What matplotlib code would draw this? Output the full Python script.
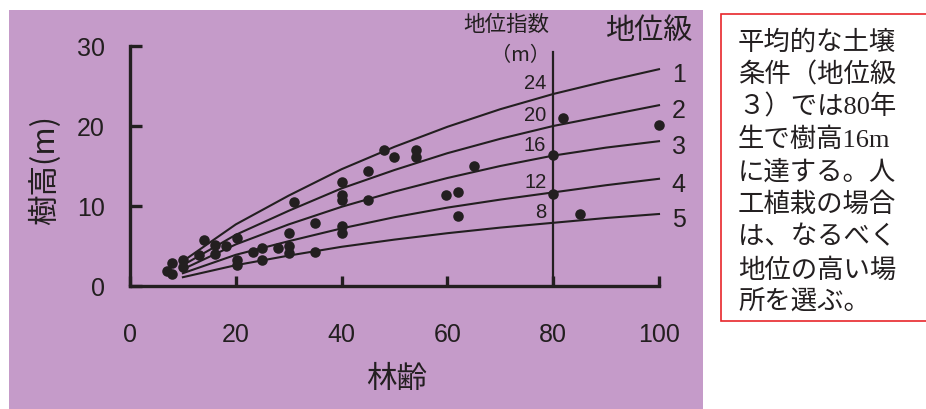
import matplotlib
matplotlib.use('Agg')
import matplotlib.pyplot as plt
from matplotlib.patches import Rectangle

# -------- data --------
ages = [10, 20, 30, 40, 50, 60, 70, 80, 90, 100]
site_class_1 = [3.1, 7.7, 11.3, 14.6, 17.4, 19.9, 22.1, 24.0, 25.6, 27.1]
site_class_2 = [2.6, 6.4, 9.4, 12.2, 14.5, 16.6, 18.4, 20.0, 21.3, 22.6]
site_class_3 = [2.1, 5.2, 7.7, 9.9, 11.8, 13.5, 15.0, 16.3, 17.3, 18.1]
site_class_4 = [1.6, 3.9, 5.6, 7.2, 8.6, 9.8, 10.8, 11.7, 12.6, 13.4]
site_class_5 = [1.1, 2.6, 3.8, 4.9, 5.8, 6.6, 7.3, 7.9, 8.5, 9.0]
curves = [site_class_1, site_class_2, site_class_3, site_class_4, site_class_5]
class_labels = ['1', '2', '3', '4', '5']
site_index_labels = ['24', '20', '16', '12', '8']
index_age = 80

# observed stands (age, height)
obs_age = [6.9, 8.0, 8.0, 10.0, 10.0, 13.0, 14.0, 16.0, 16.0, 18.2, 20.2, 20.2, 20.2,
           23.2, 25.0, 25.0, 28.0, 30.0, 30.0, 30.0, 31.0, 35.0, 35.0,
           40.0, 40.0, 40.0, 40.0, 40.0, 45.0, 45.0, 48.0, 50.0, 54.0, 54.0,
           59.8, 62.0, 62.0, 65.0, 80.0, 80.0, 81.8, 85.0, 100.0]
obs_height = [1.9, 2.9, 1.5, 3.2, 2.4, 3.9, 5.8, 5.1, 4.0, 5.0, 6.0, 3.2, 2.6,
              4.2, 4.7, 3.25, 4.8, 6.6, 5.0, 4.1, 10.5, 7.9, 4.3,
              13.0, 11.4, 10.75, 7.5, 6.6, 14.4, 10.8, 17.0, 16.1, 17.0, 16.1,
              11.4, 11.7, 8.7, 15.0, 16.4, 11.5, 21.0, 9.0, 20.1]

x_ticks = [0, 20, 40, 60, 80, 100]
y_ticks = [0, 10, 20, 30]

note_lines = ['平均的な土壌', '条件（地位級', '３）では80年', '生で樹高16m',
              'に達する。人', '工植栽の場合', 'は、なるべく', '地位の高い場', '所を選ぶ。']
# ------------------------------------------

ink = '#231f20'
purple = '#c59bc9'
jp = ['Noto Sans CJK JP', 'DejaVu Sans']
num = ['Liberation Sans', 'DejaVu Sans']
plt.rcParams['font.family'] = num

W, H = 926, 410
fig = plt.figure(figsize=(W / 100, H / 100), dpi=100)

# purple panel behind the chart
fig.patches.append(Rectangle((9 / W, 0), (703 - 9) / W, 1 - 11 / H,
                             transform=fig.transFigure, facecolor=purple,
                             edgecolor='none', zorder=-5))

ax = fig.add_axes([130 / W, 1 - 287 / H, (659 - 130) / W, (287 - 47) / H])
ax.patch.set_alpha(0)

for c in curves:
    ax.plot(ages, c, color=ink, lw=1.5, clip_on=False, zorder=3)

ax.plot(obs_age, obs_height, 'o', color=ink, ms=7.6, mec='none', clip_on=False, zorder=4)

# site index reference line at age 80
ax.plot([index_age, index_age], [0, 29.3], color=ink, lw=1.6, clip_on=False, zorder=3)

i80 = ages.index(index_age)
for c, lab in zip(curves, site_index_labels):
    ax.text(index_age - 1.3, c[i80] + 1.4, lab, ha='right', va='center',
            fontsize=14.5, color=ink)
for c, lab in zip(curves, class_labels):
    ax.text(ages[-1] + 2.4, c[-1] - 0.6, lab, ha='left', va='center',
            fontsize=18, color=ink)

ax.text(71.2, 32.75, '地位指数', ha='center', va='center', fontsize=15.5,
        color=ink, family=jp)
ax.text(79.4, 28.9, '（m）', ha='right', va='center', fontsize=14.5,
        color=ink, family=jp)
ax.text(98.0, 32.0, '地位級', ha='center', va='center', fontsize=21,
        color=ink, family=jp)

ax.set_xlim(0, 100)
ax.set_ylim(0, 30)
ax.set_xticks(x_ticks)
ax.set_yticks(y_ticks)
ax.spines['top'].set_visible(False)
ax.spines['right'].set_visible(False)
for s in ['left', 'bottom']:
    ax.spines[s].set_linewidth(2.4)
    ax.spines[s].set_color(ink)
ax.tick_params(axis='y', direction='in', length=8.6, width=2.4, color=ink,
               labelsize=18, labelcolor=ink, pad=18)
ax.tick_params(axis='x', direction='in', length=7, width=2.4, color=ink,
               labelsize=18, labelcolor=ink, pad=26)

fig.text(45 / W, 1 - 170 / H, '樹高(m)', rotation=90, ha='center', va='center',
         fontsize=22, color=ink, family=jp)
fig.text(397 / W, 1 - 380 / H, '林齢', ha='center', va='center',
         fontsize=22, color=ink, family=jp)

# note box on the right
fig.patches.append(Rectangle((721 / W, 1 - 321.7 / H), 0.5, (321.7 - 14.7) / H,
                             transform=fig.transFigure, facecolor='white',
                             edgecolor='#e8262b', lw=1.2, zorder=1))
for k, line in enumerate(note_lines):
    fig.text(738 / W, 1 - (42 + 32.6 * k) / H, line, ha='left', va='center',
             fontsize=19, color=ink, family=['Liberation Serif', 'Noto Sans CJK JP'])

plt.savefig('out.png', dpi=100)
